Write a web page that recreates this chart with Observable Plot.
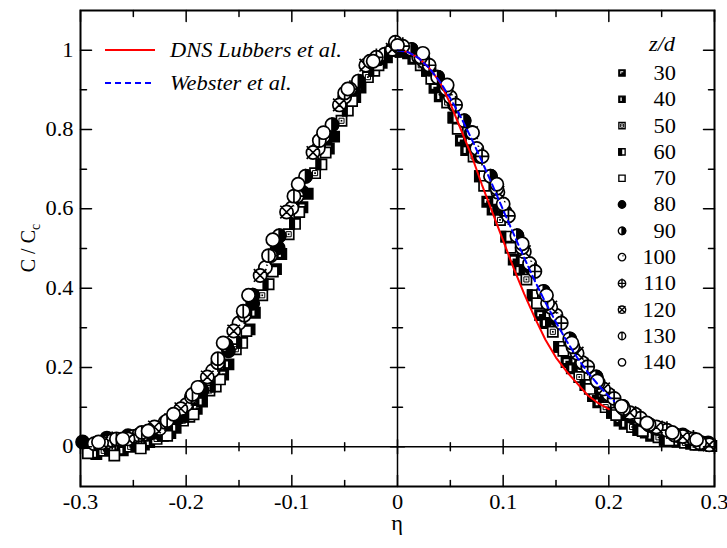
<!DOCTYPE html>
<html><head><meta charset="utf-8">
<script src="https://cdn.jsdelivr.net/npm/d3@7"></script>
<script src="https://cdn.jsdelivr.net/npm/@observablehq/plot@0.6"></script>
<style>
body{margin:0;background:#fff;}
#chart{position:relative;width:727px;height:548px;}
#chart svg, #chart svg text{font-family:"Liberation Serif","Times New Roman",serif !important;}
</style></head><body><div id="chart"></div>
<script>
// ---- data (eta, C/Cc) per z/d ----
const zdLabels = ["30","40","50","60","70","80","90","100","110","120","130","140"];
const s30 = [[-0.29,-0.012],[-0.265,-0.004],[-0.24,0.006],[-0.215,0.035],[-0.19,0.096],[-0.165,0.182],[-0.14,0.296],[-0.115,0.448],[-0.09,0.604],[-0.065,0.752],[-0.04,0.882],[-0.015,0.968],[0.01,0.992],[0.035,0.905],[0.06,0.772],[0.085,0.618],[0.11,0.472],[0.135,0.332],[0.16,0.214],[0.185,0.128],[0.21,0.066],[0.235,0.036],[0.26,0.018],[0.285,0.006]];
const s40 = [[-0.285,-0.018],[-0.26,-0.009],[-0.235,0.012],[-0.21,0.048],[-0.185,0.114],[-0.16,0.208],[-0.135,0.338],[-0.11,0.486],[-0.085,0.638],[-0.06,0.782],[-0.035,0.906],[-0.01,0.982],[0.015,0.978],[0.04,0.884],[0.065,0.748],[0.09,0.598],[0.115,0.446],[0.14,0.312],[0.165,0.198],[0.19,0.112],[0.215,0.058],[0.24,0.028],[0.265,0.013],[0.29,0.004]];
const s50 = [[-0.278,-0.01],[-0.253,0.0],[-0.228,0.02],[-0.203,0.066],[-0.178,0.142],[-0.153,0.246],[-0.128,0.382],[-0.103,0.536],[-0.078,0.69],[-0.053,0.822],[-0.028,0.932],[-0.003,0.998],[0.022,0.962],[0.047,0.868],[0.072,0.732],[0.097,0.572],[0.122,0.422],[0.147,0.29],[0.172,0.176],[0.197,0.1],[0.222,0.05],[0.247,0.024],[0.272,0.01],[0.297,0.002]];
const s60 = [[-0.272,-0.008],[-0.247,0.002],[-0.222,0.028],[-0.197,0.076],[-0.172,0.152],[-0.147,0.262],[-0.122,0.41],[-0.097,0.562],[-0.072,0.712],[-0.047,0.848],[-0.022,0.948],[0.003,0.996],[0.028,0.948],[0.053,0.83],[0.078,0.682],[0.103,0.53],[0.128,0.382],[0.153,0.252],[0.178,0.156],[0.203,0.086],[0.228,0.042],[0.253,0.018],[0.278,0.008]];
const s70 = [[-0.293,-0.016],[-0.268,-0.022],[-0.243,-0.004],[-0.218,0.028],[-0.193,0.082],[-0.168,0.17],[-0.143,0.292],[-0.118,0.442],[-0.093,0.592],[-0.068,0.742],[-0.043,0.872],[-0.018,0.962],[0.007,0.998],[0.032,0.928],[0.057,0.802],[0.082,0.658],[0.107,0.502],[0.132,0.362],[0.157,0.242],[0.182,0.146],[0.207,0.08],[0.232,0.04],[0.257,0.016],[0.282,0.005]];
const s80 = [[-0.298,0.012],[-0.275,0.022],[-0.255,0.028],[-0.232,0.036],[-0.208,0.072],[-0.185,0.142],[-0.16,0.242],[-0.137,0.362],[-0.113,0.502],[-0.09,0.642],[-0.066,0.782],[-0.042,0.902],[-0.018,0.978],[0.006,1.0],[0.03,0.952],[0.054,0.862],[0.078,0.732],[0.102,0.592],[0.126,0.452],[0.15,0.322],[0.174,0.212],[0.198,0.132],[0.222,0.076],[0.246,0.046],[0.27,0.03],[0.294,0.01]];
const s90 = [[-0.287,0.008],[-0.262,0.016],[-0.237,0.032],[-0.212,0.074],[-0.187,0.15],[-0.162,0.256],[-0.137,0.382],[-0.112,0.532],[-0.087,0.682],[-0.062,0.812],[-0.037,0.922],[-0.012,0.99],[0.013,1.002],[0.038,0.932],[0.063,0.822],[0.088,0.682],[0.113,0.532],[0.138,0.392],[0.163,0.272],[0.188,0.176],[0.213,0.102],[0.238,0.056],[0.263,0.03],[0.288,0.01]];
const s100 = [[-0.275,0.012],[-0.25,0.026],[-0.225,0.046],[-0.2,0.106],[-0.175,0.192],[-0.15,0.312],[-0.125,0.452],[-0.1,0.602],[-0.075,0.752],[-0.05,0.882],[-0.025,0.972],[0.0,1.012],[0.025,0.972],[0.05,0.882],[0.075,0.752],[0.1,0.612],[0.125,0.462],[0.15,0.332],[0.175,0.212],[0.2,0.132],[0.225,0.082],[0.25,0.046],[0.275,0.022]];
const s110 = [[-0.27,0.016],[-0.245,0.03],[-0.22,0.062],[-0.195,0.126],[-0.17,0.212],[-0.145,0.332],[-0.12,0.482],[-0.095,0.632],[-0.07,0.782],[-0.045,0.902],[-0.02,0.982],[0.005,1.01],[0.03,0.962],[0.055,0.862],[0.08,0.732],[0.105,0.582],[0.13,0.442],[0.155,0.312],[0.18,0.202],[0.205,0.122],[0.23,0.072],[0.255,0.042],[0.28,0.02]];
const s120 = [[-0.28,0.01],[-0.255,0.02],[-0.23,0.05],[-0.205,0.096],[-0.18,0.176],[-0.155,0.292],[-0.13,0.432],[-0.105,0.592],[-0.08,0.742],[-0.055,0.862],[-0.03,0.962],[-0.005,1.002],[0.02,0.982],[0.045,0.902],[0.07,0.792],[0.095,0.642],[0.12,0.492],[0.145,0.352],[0.17,0.236],[0.195,0.146],[0.22,0.086],[0.245,0.05],[0.27,0.026],[0.295,0.005]];
const s130 = [[-0.266,0.02],[-0.242,0.036],[-0.218,0.066],[-0.194,0.132],[-0.17,0.222],[-0.146,0.342],[-0.122,0.482],[-0.098,0.632],[-0.074,0.772],[-0.05,0.892],[-0.026,0.972],[-0.002,1.02],[0.022,0.982],[0.046,0.902],[0.07,0.792],[0.094,0.652],[0.118,0.502],[0.142,0.362],[0.166,0.252],[0.19,0.162],[0.214,0.096],[0.238,0.056],[0.262,0.03],[0.286,0.01]];
const s140 = [[-0.283,0.012],[-0.26,0.02],[-0.236,0.04],[-0.212,0.082],[-0.189,0.15],[-0.165,0.262],[-0.141,0.382],[-0.118,0.522],[-0.094,0.662],[-0.07,0.792],[-0.047,0.902],[-0.023,0.972],[0.0,1.012],[0.024,0.992],[0.047,0.912],[0.071,0.792],[0.094,0.662],[0.118,0.512],[0.141,0.382],[0.165,0.262],[0.189,0.166],[0.212,0.102],[0.236,0.06],[0.26,0.036],[0.283,0.018]];

const dnsEta = [0.003,0.01,0.02,0.03,0.04,0.05,0.06,0.07,0.08,0.09,0.1,0.11,0.12,0.13,0.14,0.15,0.16,0.17,0.18,0.19,0.2];
const dnsC   = [1.0,0.995,0.98,0.955,0.92,0.865,0.80,0.735,0.66,0.59,0.52,0.45,0.385,0.325,0.27,0.225,0.19,0.16,0.13,0.11,0.095];
const webEta = [0,0.01,0.02,0.03,0.04,0.05,0.06,0.07,0.08,0.09,0.1,0.11,0.12,0.13,0.14,0.15,0.16,0.17,0.18,0.19,0.2,0.205];
const webC   = [1,0.995,0.98,0.955,0.921,0.879,0.831,0.777,0.719,0.659,0.597,0.536,0.476,0.418,0.364,0.314,0.267,0.225,0.188,0.156,0.127,0.115];

const xMajor = [-0.3,-0.2,-0.1,0,0.1,0.2,0.3];
const xMinor = [-0.25,-0.15,-0.05,0.05,0.15,0.25];
const yMajor = [0,0.2,0.4,0.6,0.8,1];
const yMinor = [0.1,0.3,0.5,0.7,0.9];
const xTickLabels = ["-0.3","-0.2","-0.1","0","0.1","0.2","0.3"];
const yTickLabels = ["0","0.2","0.4","0.6","0.8","1"];

// ---- symbols ----
const mk = fn => ({draw(c, size){ fn(c, Math.sqrt(size/Math.PI)); }});
const K = 0.85;
const circ = (c,r) => { c.moveTo(r,0); c.arc(0,0,r,0,2*Math.PI); };
const squareP = mk((c,r)=>{const a=r*K; c.rect(-a,-a,2*a,2*a);});
const mark30 = mk((c,r)=>{const a=r*K; c.rect(-0.55*a,-0.55*a,0.95*a,0.32*a); c.rect(-0.55*a,-0.55*a,0.32*a,0.75*a);});
const bar40 = mk((c,r)=>{const a=r*K; c.rect(-0.5*a,-0.55*a,0.42*a,1.1*a);});
const inner50 = mk((c,r)=>{const b=r*K*0.5; c.rect(-b,-b,2*b,2*b);});
const dot50 = mk((c,r)=>{const b=r*0.14; c.rect(-b,-b,2*b,2*b);});
const left60 = mk((c,r)=>{const a=r*K; c.rect(-a,-a,0.85*a,2*a);});
const circleP = mk((c,r)=>circ(c,r));
const right90 = mk((c,r)=>{c.moveTo(0,-r); c.arc(0,0,r,-Math.PI/2,Math.PI/2); c.closePath();});
const inner100 = mk((c,r)=>{const q=0.42*r; c.moveTo(q*0.7,-q*0.7); c.arc(0,0,q,-Math.PI/4,Math.PI*1.6,true);});
const plus110 = mk((c,r)=>{circ(c,r); c.moveTo(-r,0); c.lineTo(r,0); c.moveTo(0,-1.35*r); c.lineTo(0,1.35*r);});
const x120 = mk((c,r)=>{circ(c,r); const d=r*0.95; c.moveTo(-d,-d); c.lineTo(d,d); c.moveTo(-d,d); c.lineTo(d,-d);});
const v130 = mk((c,r)=>{circ(c,r); c.moveTo(0,-r); c.lineTo(0,r);});

const styles = [
  {data:s30, sq:true, layers:[{sym:squareP, fill:"black"},{sym:mark30, fill:"white", stroke:"none"}]},
  {data:s40, sq:true, layers:[{sym:squareP, fill:"black"},{sym:bar40, fill:"white", stroke:"none"}]},
  {data:s50, sq:true, layers:[{sym:squareP, fill:"white"},{sym:inner50, fill:"none", sw:1},{sym:dot50, fill:"black", stroke:"none"}]},
  {data:s60, sq:true, layers:[{sym:squareP, fill:"white"},{sym:left60, fill:"black"}]},
  {data:s70, sq:true, layers:[{sym:squareP, fill:"white"}]},
  {data:s80, layers:[{sym:circleP, fill:"black"}]},
  {data:s90, layers:[{sym:circleP, fill:"white"},{sym:right90, fill:"black"}]},
  {data:s100, layers:[{sym:circleP, fill:"white"},{sym:inner100, fill:"none", sw:1.2}]},
  {data:s110, layers:[{sym:plus110, fill:"white"}]},
  {data:s120, layers:[{sym:x120, fill:"white"}]},
  {data:s130, layers:[{sym:v130, fill:"white"}]},
  {data:s140, layers:[{sym:circleP, fill:"white"}]}
];

const tickShape = {draw(c, l){ c.moveTo(0,0); c.lineTo(0,-l); }};
const TW = 1.5;

const marks = [];
marks.push(Plot.ruleY([0], {stroke:"black", strokeWidth:1.5}));
marks.push(Plot.ruleX([0], {stroke:"black", strokeWidth:1.5}));
for (const s of styles) {
  const r = s.sq ? 6.0 : 6.6;
  for (const L of s.layers) {
    marks.push(Plot.dot(s.data, {x: d=>d[0], y: d=>d[1], r, symbol: L.sym, fill: L.fill, stroke: L.stroke ?? "black", strokeWidth: L.sw ?? 1.7}));
  }
}
const dnsPts = dnsEta.map((e,i)=>({e, c:dnsC[i]}));
const webPts = webEta.map((e,i)=>({e, c:webC[i]}));
marks.push(Plot.line(dnsPts, {x:"e", y:"c", stroke:"#ff0000", strokeWidth:2}));
marks.push(Plot.line(webPts, {x:"e", y:"c", stroke:"#0000ff", strokeWidth:2, strokeDasharray:"6,4"}));
const tk = (data, ch, anchor, rot, len) => Plot.vector(data, {[ch]: d=>d, frameAnchor: anchor, rotate: rot, length: len, anchor:"start", shape: tickShape, stroke:"black", strokeWidth: TW});
marks.push(tk(xMajor,"x","bottom",0,11), tk(xMinor,"x","bottom",0,6));
marks.push(tk(xMajor,"x","top",180,11), tk(xMinor,"x","top",180,6));
marks.push(tk(yMajor,"y","left",90,11), tk(yMinor,"y","left",90,6));
marks.push(tk(yMajor,"y","right",-90,11), tk(yMinor,"y","right",-90,6));
marks.push(Plot.vector(xMajor, {x:d=>d, y:()=>0, rotate:0, length:14, anchor:"middle", shape:tickShape, stroke:"black", strokeWidth:TW}));
marks.push(Plot.vector(xMinor, {x:d=>d, y:()=>0, rotate:0, length:8, anchor:"middle", shape:tickShape, stroke:"black", strokeWidth:TW}));
marks.push(Plot.vector(yMajor, {y:d=>d, x:()=>0, rotate:90, length:14, anchor:"middle", shape:tickShape, stroke:"black", strokeWidth:TW}));
marks.push(Plot.vector(yMinor, {y:d=>d, x:()=>0, rotate:90, length:10, anchor:"middle", shape:tickShape, stroke:"black", strokeWidth:TW}));
marks.push(Plot.text(xMajor, {x:d=>d, frameAnchor:"bottom", dy:16, text:(d,i)=>xTickLabels[i], lineAnchor:"middle", fill:"black"}));
marks.push(Plot.text(yMajor, {y:d=>d, frameAnchor:"left", dx:-7, text:(d,i)=>yTickLabels[i], textAnchor:"end", lineAnchor:"middle", fill:"black"}));
marks.push(Plot.frame({stroke:"black", strokeWidth:2}));

const plot = Plot.plot({
  width: 727, height: 548,
  marginLeft: 80, marginRight: 13, marginTop: 10, marginBottom: 62,
  x: {domain: [-0.3, 0.3], axis: null},
  y: {domain: [-0.1, 1.1], axis: null},
  style: {fontSize: "20px", color: "black", background: "white", overflow: "visible"},
  marks
});
document.getElementById("chart").appendChild(plot);

const svg = d3.select(plot);
const yl = svg.append("text").attr("transform","translate(35,248) rotate(-90)").attr("text-anchor","middle")
  .attr("font-size", 20).attr("fill","black").attr("data-ns","1");
yl.append("tspan").text("C / C");
yl.append("tspan").attr("font-size", 14).attr("dy", 5).text("c");
svg.append("text").attr("x",397).attr("y",530).attr("text-anchor","middle").attr("font-size",20).text("η");

const lg = svg.append("g");
lg.append("line").attr("x1",105).attr("x2",155).attr("y1",50).attr("y2",50).attr("stroke","#ff0000").attr("stroke-width",2);
lg.append("line").attr("x1",105).attr("x2",155).attr("y1",83).attr("y2",83).attr("stroke","#0000ff").attr("stroke-width",2).attr("stroke-dasharray","6,4");
lg.append("text").attr("x",170).attr("y",57).attr("text-anchor","start").attr("font-style","italic").attr("font-size",20).text("DNS Lubbers et al.");
lg.append("text").attr("x",170).attr("y",90).attr("text-anchor","start").attr("font-style","italic").attr("font-size",20).text("Webster et al.");

const zg = svg.append("g");
zg.append("text").attr("x",662).attr("y",51).attr("text-anchor","middle").attr("font-style","italic").attr("font-size",20).text("z/d");
styles.forEach((s, i) => {
  const y = 73 + i*26.3;
  const r = 3.7;
  for (const L of s.layers) {
    zg.append("path").attr("transform",`translate(622,${y})`)
      .attr("d", d3.symbol(L.sym, Math.PI*r*r)())
      .attr("fill", L.fill).attr("stroke", L.stroke ?? "black").attr("stroke-width", (L.sw ?? 1.5)*0.9);
  }
  zg.append("text").attr("x",676).attr("y",y+7).attr("text-anchor","end").attr("font-size",20).text(zdLabels[i]);
});

// widen glyphs horizontally around each text's anchor point
const SX = 1.12;
plot.querySelectorAll("text").forEach(t => {
  if (t.getAttribute("data-ns")) return;
  const bb = t.getBoundingClientRect();
  if (!bb.width) return;
  const anc = getComputedStyle(t).textAnchor;
  const ax = anc === "end" ? bb.right : anc === "middle" ? (bb.left + bb.right)/2 : bb.left;
  const m = t.parentNode.getScreenCTM().inverse();
  const p = new DOMPoint(ax, bb.top).matrixTransform(m);
  const g = document.createElementNS("http://www.w3.org/2000/svg", "g");
  g.setAttribute("transform", `translate(${p.x},0) scale(${SX},1) translate(${-p.x},0)`);
  t.parentNode.insertBefore(g, t);
  g.appendChild(t);
});
</script></body></html>
